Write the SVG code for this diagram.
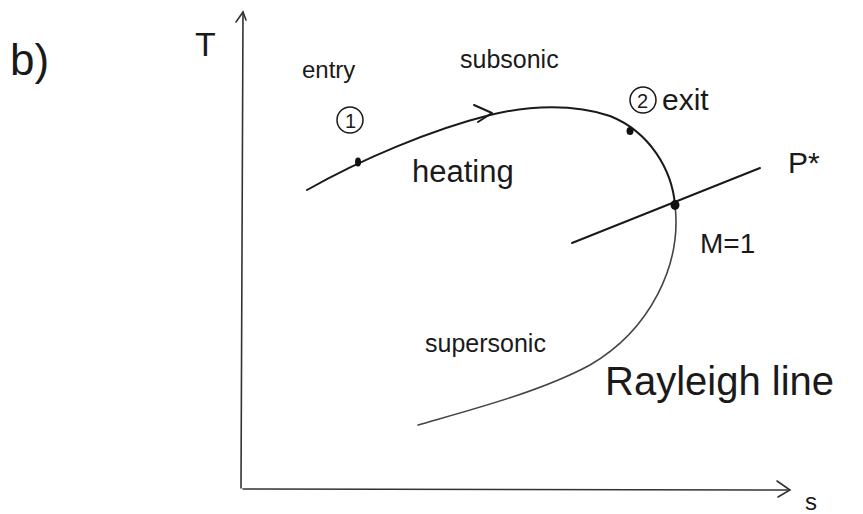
<svg xmlns="http://www.w3.org/2000/svg" width="863" height="514" viewBox="0 0 863 514">
<style>
.ln{fill:none;stroke:#1a1a1a;stroke-width:2;stroke-linecap:round;stroke-linejoin:round}
.ln2{fill:none;stroke:#444;stroke-width:1.6;stroke-linecap:round;stroke-linejoin:round}
.ax{fill:none;stroke:#333;stroke-width:1.6;stroke-linecap:round}
.t{font-family:"Liberation Sans",Arial,sans-serif;fill:#1a1a1a}
.dot{fill:#111}
</style>
<rect width="863" height="514" fill="#fff"/>
<g id="axes">
<path class="ax" d="M241,488 L243,12"/>
<path class="ax" d="M236,22 L243,12 L246,20"/>
<path class="ax" d="M243,489 L788,490"/>
<path class="ax" d="M777,481 L790,490 L778,497"/>
</g>
<g id="labels">
<text class="t" x="10" y="75" font-size="44">b)</text>
<text class="t" x="195" y="56" font-size="34">T</text>
<text class="t" x="805" y="510" font-size="24">s</text>
<text class="t" x="302" y="78" font-size="24">entry</text>
<circle cx="350" cy="120" r="13" fill="none" stroke="#1a1a1a" stroke-width="1.5"/>
<text class="t" x="345" y="128" font-size="20">1</text>
<text class="t" x="460" y="68" font-size="25">subsonic</text>
<text class="t" x="412" y="182" font-size="31">heating</text>
<circle cx="643" cy="100" r="13" fill="none" stroke="#1a1a1a" stroke-width="1.5"/>
<text class="t" x="637" y="108" font-size="20">2</text>
<text class="t" x="662" y="110" font-size="30">exit</text>
<text class="t" x="788" y="173" font-size="30">P*</text>
<text class="t" x="700" y="253" font-size="28">M=1</text>
<text class="t" x="425" y="352" font-size="25">supersonic</text>
<text class="t" x="605" y="395" font-size="40">Rayleigh line</text>
</g>
<g id="connectors">
<path class="ln" d="M307,190 C360,160 430,130 490,115 C530,105 575,104 610,116 C650,132 672,170 675,205"/>
<path class="ln2" d="M675,205 C682,265 650,330 590,365 C540,392 470,410 418,425"/>
<path class="ln" d="M474,105 L492,113 L478,122"/>
<path class="ln" d="M572,243 L760,168"/>
<ellipse class="dot" cx="358" cy="162" rx="3" ry="4.5"/>
<ellipse class="dot" cx="630" cy="131" rx="3.5" ry="4"/>
<ellipse class="dot" cx="675" cy="205" rx="4.5" ry="5"/>
</g>
</svg>
